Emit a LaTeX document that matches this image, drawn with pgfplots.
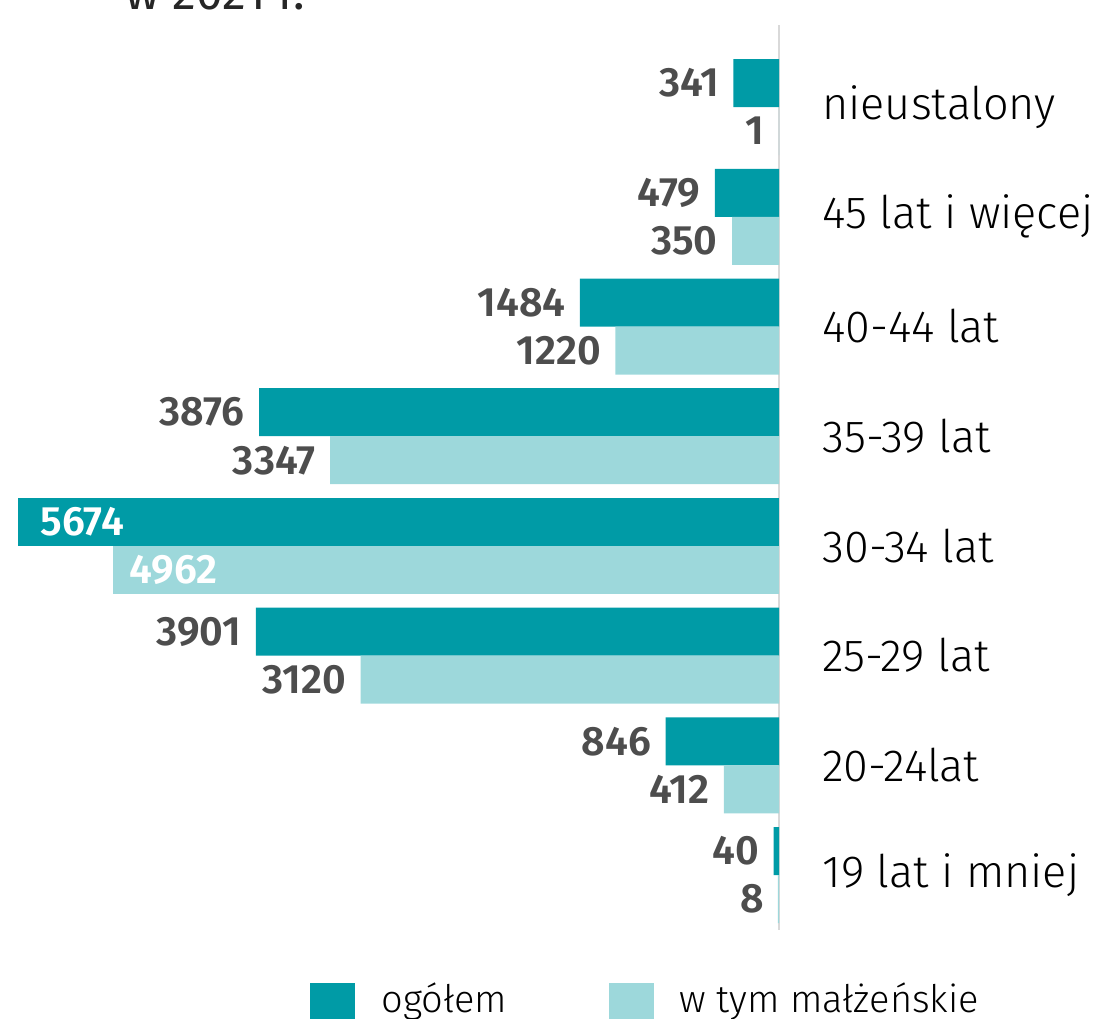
\documentclass[border=0pt]{standalone}
\usepackage{pgfplots}
\pgfplotsset{compat=1.18}
\usepackage{fontspec}
\setmainfont{Fira Sans}[BoldFont=* SemiBold]
\newfontfamily\firalight{Fira Sans Light}
\definecolor{dark}{RGB}{0,155,166}
\definecolor{light}{RGB}{157,216,219}
\definecolor{lab}{RGB}{77,77,77}
\begin{document}
\begin{tikzpicture}
\begin{axis}[
  name=ax, at={(0,0)}, anchor=south west,
  scale only axis, width=380.5pt, height=452.55pt,
  xbar, bar width=24pt,
  xmin=-5674, xmax=0,
  ymin=-0.5, ymax=7.75,
  axis x line=none,
  axis y line*=right,
  axis line style={draw=black!15, line width=1pt},
  ytick={0,...,7},
  yticklabels={19 lat i mniej,20-24lat,25-29 lat,30-34 lat,35-39 lat,40-44 lat,45 lat i więcej,nieustalony},
  major tick length=0pt,
  yticklabel style={font=\firalight\fontsize{22.5pt}{24pt}\selectfont, text=black, anchor=west, inner sep=0pt, xshift=21.5pt},
  point meta=explicit symbolic,
  nodes near coords={\pgfplotspointmeta},
  clip=false,
]
\addplot[fill=dark, draw=none, bar shift=12pt,
  every node near coord/.style={anchor=east, inner sep=0pt, xshift=-7pt, yshift=12pt, text=lab, font=\bfseries\fontsize{20.5pt}{22pt}\selectfont}] coordinates {
(-341,7) [341] (-479,6) [479] (-1484,5) [1484] (-3876,4) [3876] (-3901,2) [3901] (-846,1) [846] (-40,0) [40]};
\addplot[fill=light, draw=none, bar shift=-12pt,
  every node near coord/.style={anchor=east, inner sep=0pt, xshift=-7pt, yshift=-12pt, text=lab, font=\bfseries\fontsize{20.5pt}{22pt}\selectfont}] coordinates {
(-1,7) [1] (-350,6) [350] (-1220,5) [1220] (-3347,4) [3347] (-3120,2) [3120] (-412,1) [412] (-8,0) [8]};
\addplot[fill=dark, draw=none, bar shift=12pt, forget plot,
  every node near coord/.style={anchor=west, inner sep=0pt, xshift=11pt, yshift=12pt, text=white, font=\bfseries\fontsize{20.5pt}{22pt}\selectfont}]
  coordinates {(-5674,3) [5674]};
\addplot[fill=light, draw=none, bar shift=-12pt, forget plot,
  every node near coord/.style={anchor=west, inner sep=0pt, xshift=8pt, yshift=-12pt, text=white, font=\bfseries\fontsize{20.5pt}{22pt}\selectfont}]
  coordinates {(-4962,3) [4962]};
\end{axis}
\node[anchor=base west, inner sep=0pt, font=\fontsize{24pt}{26pt}\selectfont, text=black!85] at (53.5pt,459.95pt) {w 2021 r.};
\fill[dark] (146pt,-26.55pt) rectangle ++(22.5pt,-22.5pt);
\fill[light] (295.5pt,-26.55pt) rectangle ++(22.5pt,-22.5pt);
\node[anchor=base west, inner sep=0pt, font=\firalight\fontsize{19pt}{21pt}\selectfont] at (181.5pt,-41.05pt) {ogółem};
\node[anchor=base west, inner sep=0pt, font=\firalight\fontsize{19pt}{21pt}\selectfont] at (330.5pt,-41.05pt) {w tym małżeńskie};
\pgfresetboundingbox
\useasboundingbox (-9pt,-44.05pt) rectangle (538.5pt,464.95pt);
\end{tikzpicture}
\end{document}
